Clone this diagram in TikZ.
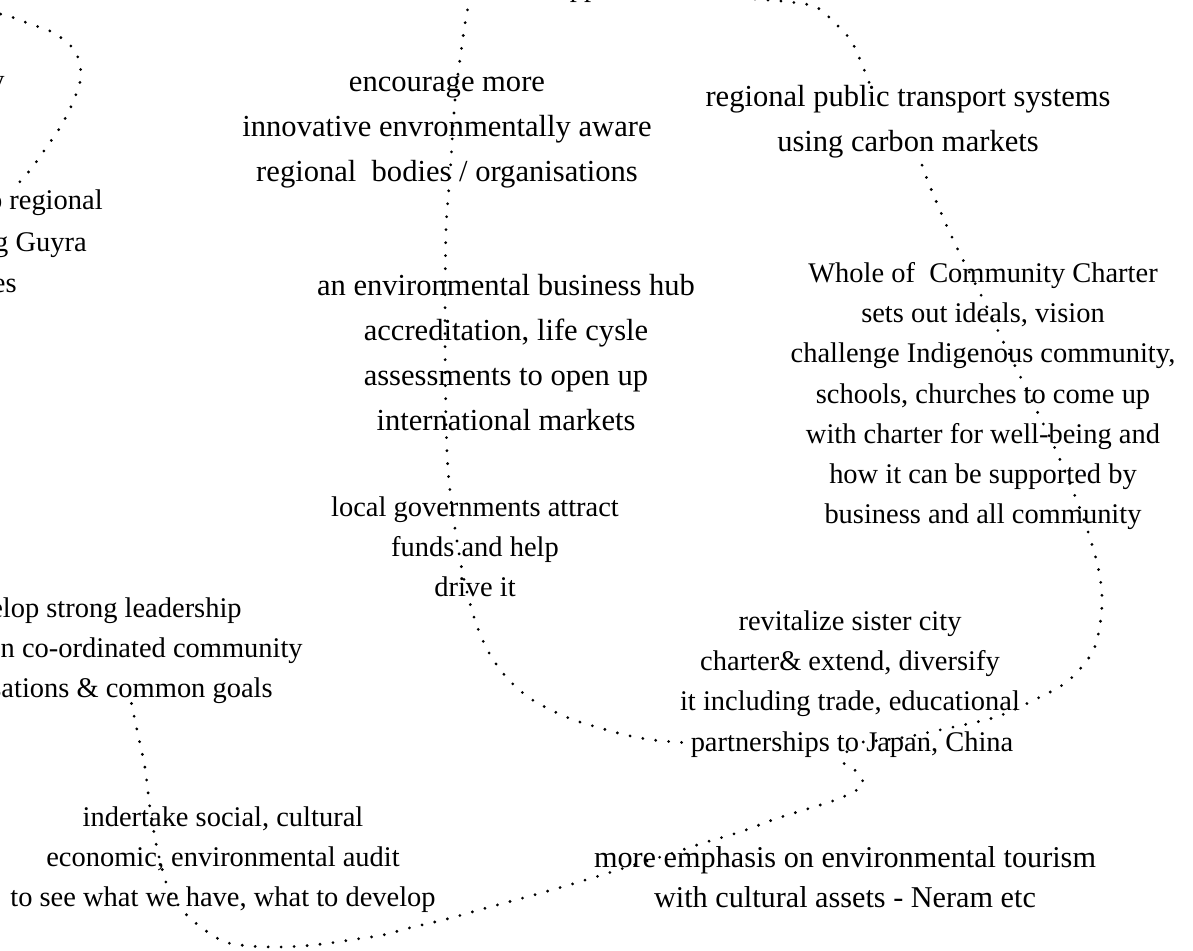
\documentclass[tikz,border=0pt]{standalone}
\usepackage{fontspec}
\setmainfont{Liberation Serif}
\newlength{\du}
\setlength{\du}{0.02cm}
\tikzset{
  txt/.style={align=center, inner sep=0pt, execute at begin node=\strut, execute at end node=\strut},
  bigtxt/.style={txt, font=\fontsize{17.4}{25.6}\selectfont},
  smalltxt/.style={txt, font=\fontsize{16.2}{22.8}\selectfont},
  cuttxt/.style={inner sep=0pt, anchor=base east, font=\fontsize{16.2}{22.8}\selectfont},
  dotline/.style={line width=3.1\du, line cap=round, dash pattern=on 0pt off 13\du}
}
\begin{document}
\begin{tikzpicture}
\pgftransformxscale{1.000000}
\pgftransformyscale{-1.000000}
\useasboundingbox (0\du,0\du) rectangle (1193\du,950\du);
\clip (0\du,0\du) rectangle (1193\du,950\du);
% text, cut at the page edge
\node[cuttxt] (guyra1) at (5\du,89\du) {y};
\node[cuttxt] (guyra2) at (103\du,209\du) {o regional};
\node[cuttxt] (guyra3) at (87\du,251\du) {g Guyra};
\node[cuttxt] (guyra4) at (17\du,292\du) {es};
\node[cuttxt] (lead1) at (242\du,617\du) {elop strong leadership};
\node[cuttxt] (lead2) at (303\du,657\du) {on co-ordinated community};
\node[cuttxt] (lead3) at (273\du,697\du) {sations \& common goals};
\node[cuttxt, anchor=base] (topcut) at (584\du,-4\du) {pp};
% text
\node[bigtxt] (transp) at (908\du,125\du) {regional public transport systems\\using carbon markets};
\node[bigtxt] (encour) at (447\du,135\du) {encourage more\\innovative envronmentally aware\\regional\ \ bodies / organisations};
\node[bigtxt] (bizhub) at (506\du,359\du) {an environmental business hub\\accreditation, life cysle\\assessments to open up\\international markets};
\node[smalltxt] (locgov) at (475\du,553\du) {local governments attract\\funds and help\\drive it};
\node[smalltxt] (charter) at (983\du,399\du) {Whole of\ \ Community Charter\\sets out ideals, vision\\challenge Indigenous community,\\schools, churches to come up\\with charter for well-being and\\how it can be supported by\\business and all community};
\node[smalltxt] (revit) at (850\du,667\du) {revitalize sister city\\charter\& extend, diversify\\it including trade, educational};
\node[smalltxt] (partner) at (852\du,743\du) {partnerships to Japan, China};
\node[smalltxt, font=\fontsize{17.2}{22.8}\selectfont] (emphas) at (845\du,883\du) {more emphasis on environmental tourism\\with cultural assets - Neram etc};
\node[smalltxt] (audit) at (223\du,863\du) {indertake social, cultural\\economic, environmental audit\\to see what we have, what to develop};
% loose ends above the page
\coordinate (offtl) at (-25\du,10\du);
\coordinate (offtc) at (475\du,-15\du);
\coordinate (offtr) at (755\du,-1\du);
% dotted links
\draw[dotline] plot[smooth] coordinates {(offtl) (5\du,15\du) (30\du,24\du) (54\du,33\du) (75\du,51\du) (81\du,76\du) (73\du,102\du) (61\du,126\du) (46\du,148\du) (31\du,169\du) ([xshift=-32\du]guyra2.north)};
\draw[dotline] plot[smooth] coordinates {(offtc) (467\du,12\du) (461\du,52\du) (455\du,100\du) (450\du,175\du) (446\du,230\du) (445\du,330\du) (446\du,420\du) (448\du,470\du) (453\du,515\du) (462\du,570\du) (471\du,607\du) (480\du,634\du) (492\du,658\du) (508\du,679\du) (528\du,697\du) (551\du,710\du) (574\du,720\du) (600\du,728\du) (626\du,735\du) (653\du,740\du) (partner.west)};
\draw[dotline] plot[smooth] coordinates {(offtr) (790\du,2\du) (816\du,7\du) (836\du,24\du) (853\du,44\du) ([xshift=-38\du]transp.north)};
\draw[dotline] plot[smooth] coordinates {([xshift=14\du]transp.south) (929\du,184\du) (945\du,222\du) (962\du,258\du) (983\du,299\du) (1000\du,335\du) (1018\du,372\du) (1035\du,407\du) (1058\du,455\du) (1083\du,517\du) (1098\du,567\du) (1102\du,605\du) (1094\du,649\du) (1068\du,681\du) (1034\du,700\du) (996\du,717\du) (944\du,729\du) (900\du,738\du) (partner.center)};
\draw[dotline] plot[smooth] coordinates {(lead3.south) (137\du,730\du) (145\du,768\du) (150\du,808\du) (157\du,848\du) (168\du,888\du) (183\du,911\du) (202\du,928\du) (225\du,942\du) (250\du,946\du) (277\du,947\du) (303\du,946\du) (330\du,943\du) (357\du,939\du) (383\du,935\du) (409\du,928\du) (447\du,919\du) (486\du,908\du) (523\du,898\du) (562\du,887\du) (602\du,875\du) (640\du,863\du) (667\du,855\du) (703\du,843\du) (740\du,832\du) (778\du,818\du) (817\du,806\du) (843\du,797\du) (863\du,785\du) (856\du,771\du) (843\du,762\du) (partner.center)};
\end{tikzpicture}
\end{document}
